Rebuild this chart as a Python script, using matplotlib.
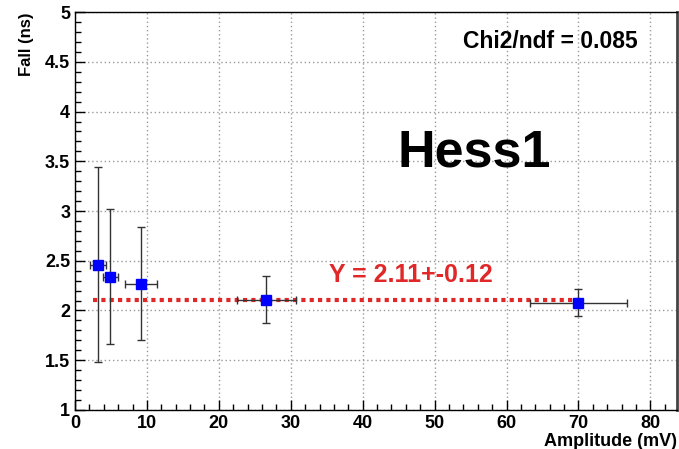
import numpy as np
import matplotlib.pyplot as plt
from matplotlib.ticker import MultipleLocator

plt.rcParams['font.family'] = ['Liberation Sans', 'DejaVu Sans']
plt.rcParams['font.weight'] = 'bold'

# measured points: amplitude (mV), fall time (ns) and their errors
amp = [3.2, 4.9, 9.2, 26.6, 70.0]
amp_err = [1.1, 1.05, 2.2, 4.1, 6.7]
fall = [2.46, 2.34, 2.27, 2.11, 2.08]
fall_err = [0.98, 0.68, 0.57, 0.24, 0.14]

# constant fit
fit_value = 2.11
fit_error = 0.12
fit_range = [2.5, 70.0]
chi2_ndf = 0.085

fig = plt.figure(figsize=(6.79, 4.49), dpi=100)
ax = fig.add_axes([0.1105, 0.087, 0.8865, 0.886])

ax.errorbar(amp, fall, xerr=amp_err, yerr=fall_err, fmt='none',
            ecolor='#333333', elinewidth=1.0, capsize=3, capthick=1.0, zorder=3)
ax.plot(fit_range, [fit_value, fit_value], color='#e02828', lw=3,
        linestyle=(0, (1, 1)), zorder=2)
ax.plot(amp, fall, 's', color='#0000ff', markersize=7, zorder=4)

ax.set_xlim(0, 83.7)
ax.set_ylim(1, 5)
ax.xaxis.set_major_locator(MultipleLocator(10))
ax.xaxis.set_minor_locator(MultipleLocator(2))
ax.yaxis.set_major_locator(MultipleLocator(0.5))
ax.yaxis.set_minor_locator(MultipleLocator(0.1))
ax.yaxis.set_major_formatter(plt.FuncFormatter(lambda v, p: f'{v:g}'))

ax.tick_params(which='both', direction='in', top=False, right=False,
               labelsize=13, width=1.0)
ax.tick_params(which='major', length=7)
ax.tick_params(which='minor', length=4)
ax.grid(True, which='major', color='#999999', linestyle=(0, (1, 2)), lw=1.0)
for s in ax.spines.values():
    s.set_linewidth(1.0)
ax.spines['right'].set_linewidth(2.0)
ax.spines['right'].set_color('#444444')

ax.set_xlabel('Amplitude (mV)', fontsize=13, fontweight='bold', loc='right',
              labelpad=1)
ax.set_ylabel('Fall (ns)', fontsize=12, fontweight='bold', loc='top', labelpad=8)

ax.text(0.934, 0.925, f'Chi2/ndf = {chi2_ndf}', transform=ax.transAxes,
        ha='right', va='center', fontsize=16.5, fontweight='bold')
ax.text(0.536, 0.645, 'Hess1', transform=ax.transAxes, ha='left', va='center',
        fontsize=37.5, fontweight='bold')
ax.text(35.3, 2.36, f'Y = {fit_value}+-{fit_error}', color='#e02828',
        ha='left', va='center', fontsize=18, fontweight='bold')

fig.savefig('out.png', dpi=100)
